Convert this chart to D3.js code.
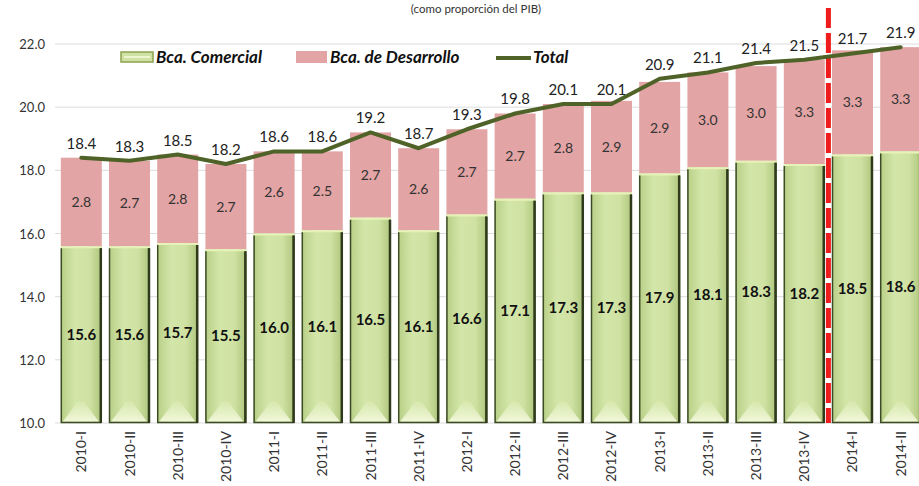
<!DOCTYPE html>
<html>
<head>
<meta charset="utf-8">
<script src="https://cdn.jsdelivr.net/npm/d3@7"></script>
<style>
  html, body { margin: 0; padding: 0; background: #fff; }
  svg { display: block; font-family: Lato, "Open Sans", sans-serif; }
</style>
</head>
<body>
<svg id="chart" width="919" height="486"></svg>
<script>
// trimestres
const periodos = ["2010-I", "2010-II", "2010-III", "2010-IV", "2011-I", "2011-II", "2011-III", "2011-IV",
  "2012-I", "2012-II", "2012-III", "2012-IV", "2013-I", "2013-II", "2013-III", "2013-IV", "2014-I", "2014-II"];
// banca comercial
const comercial = [15.6, 15.6, 15.7, 15.5, 16.0, 16.1, 16.5, 16.1, 16.6, 17.1, 17.3, 17.3, 17.9, 18.1, 18.3, 18.2, 18.5, 18.6];
// banca de desarrollo
const desarrollo = [2.8, 2.7, 2.8, 2.7, 2.6, 2.5, 2.7, 2.6, 2.7, 2.7, 2.8, 2.9, 2.9, 3.0, 3.0, 3.3, 3.3, 3.3];
// total (linea)
const total = [18.4, 18.3, 18.5, 18.2, 18.6, 18.6, 19.2, 18.7, 19.3, 19.8, 20.1, 20.1, 20.9, 21.1, 21.4, 21.5, 21.7, 21.9];
const yTicks = [10, 12, 14, 16, 18, 20, 22];
const corte = "2014-I"; // linea roja antes de este trimestre

const svg = d3.select("#chart");

const x = d3.scaleBand().domain(periodos).range([56, 926]).paddingInner(0.15).paddingOuter(0.1);
const y = d3.scaleLinear().domain([10, 22]).range([423, 44]);

// degradados
const defs = svg.append("defs");
const gVerde = defs.append("linearGradient").attr("id", "verde").attr("x1", 0).attr("x2", 1);
gVerde.append("stop").attr("offset", "0%").attr("stop-color", "#b7cf86");
gVerde.append("stop").attr("offset", "35%").attr("stop-color", "#d3e6a9");
gVerde.append("stop").attr("offset", "70%").attr("stop-color", "#cfe2a3");
gVerde.append("stop").attr("offset", "100%").attr("stop-color", "#aec57b");
const gBisel = defs.append("linearGradient").attr("id", "bisel").attr("x1", 0).attr("x2", 0).attr("y1", 0).attr("y2", 1);
gBisel.append("stop").attr("offset", "0%").attr("stop-color", "#eef6cf").attr("stop-opacity", 0.2);
gBisel.append("stop").attr("offset", "100%").attr("stop-color", "#f4f9de").attr("stop-opacity", 0.95);

// titulo (cortado arriba en el original)
svg.append("text")
  .attr("x", 476).attr("y", 13)
  .attr("text-anchor", "middle")
  .attr("font-size", 11.5).attr("fill", "#333")
  .text("(como proporción del PIB)");

// lineas de la grilla
svg.append("g").selectAll("line")
  .data(yTicks)
  .join("line")
  .attr("x1", 55).attr("x2", 919)
  .attr("y1", d => y(d)).attr("y2", d => y(d))
  .attr("stroke", "#dcdcdc").attr("stroke-width", 1);

// etiquetas eje y
svg.append("g").selectAll("text")
  .data(yTicks)
  .join("text")
  .attr("x", 45).attr("y", d => y(d) + 5)
  .attr("text-anchor", "end")
  .attr("font-size", 13).attr("fill", "#333")
  .text(d => d.toFixed(1));

// barras
const barras = svg.append("g").selectAll("g")
  .data(periodos)
  .join("g");

// banca de desarrollo (arriba)
barras.append("rect")
  .attr("x", d => x(d))
  .attr("y", (d, i) => y(comercial[i] + desarrollo[i]))
  .attr("width", x.bandwidth())
  .attr("height", (d, i) => y(comercial[i]) - y(comercial[i] + desarrollo[i]))
  .attr("fill", "#e2a4a4");

// banca comercial (abajo)
barras.append("rect")
  .attr("x", d => x(d))
  .attr("y", (d, i) => y(comercial[i]))
  .attr("width", x.bandwidth())
  .attr("height", (d, i) => y(10) - y(comercial[i]))
  .attr("fill", "url(#verde)");

// bisel inferior
barras.append("path")
  .attr("d", d => {
    const x0 = x(d) + 2, x1 = x(d) + x.bandwidth() - 3, b = y(10) - 1.5, m = (x0 + x1) / 2;
    return `M${x0},${b} L${m - 3},${b - 20} L${m + 3},${b - 20} L${x1},${b} Z`;
  })
  .attr("fill", "url(#bisel)");

// borde claro arriba del verde
barras.append("line")
  .attr("x1", d => x(d)).attr("x2", d => x(d) + x.bandwidth())
  .attr("y1", (d, i) => y(comercial[i]) + 1).attr("y2", (d, i) => y(comercial[i]) + 1)
  .attr("stroke", "#e8f2b8").attr("stroke-width", 2);

// sombra oscura izquierda y abajo
barras.append("path")
  .attr("d", (d, i) => {
    const l = x(d), r = x(d) + x.bandwidth(), t = y(comercial[i]) + 2, b = y(10);
    return `M${l + 0.5},${t} L${l + 0.5},${b - 0.5} L${r - 1},${b - 0.5} L${r - 1},${t}`;
  })
  .attr("fill", "none")
  .attr("stroke", "#3d4a26")
  .attr("stroke-width", 1.5);

// sombra derecha
barras.append("line")
  .attr("x1", d => x(d) + x.bandwidth() - 1).attr("x2", d => x(d) + x.bandwidth() - 1)
  .attr("y1", (d, i) => y(comercial[i]) + 2).attr("y2", y(10))
  .attr("stroke", "#2f3a1d").attr("stroke-width", 2.5);

// etiquetas banca comercial
barras.append("text")
  .attr("x", d => x(d) + x.bandwidth() / 2)
  .attr("y", (d, i) => y((10 + comercial[i]) / 2) + 5)
  .attr("text-anchor", "middle")
  .attr("font-size", 15).attr("font-weight", "bold").attr("fill", "#111")
  .text((d, i) => comercial[i].toFixed(1));

// etiquetas banca de desarrollo
barras.append("text")
  .attr("x", d => x(d) + x.bandwidth() / 2)
  .attr("y", (d, i) => y(comercial[i] + desarrollo[i] / 2) + 5)
  .attr("text-anchor", "middle")
  .attr("font-size", 14).attr("fill", "#333")
  .text((d, i) => desarrollo[i].toFixed(1));

// linea roja punteada
const xc = x(corte) - x.step() * x.paddingInner() / 2;
svg.append("line")
  .attr("x1", xc).attr("x2", xc).attr("y1", 8).attr("y2", y(10))
  .attr("stroke", "#fff").attr("stroke-width", 5);
svg.append("line")
  .attr("x1", xc).attr("x2", xc).attr("y1", 8).attr("y2", y(10))
  .attr("stroke", "#ee1c1c").attr("stroke-width", 5)
  .attr("stroke-dasharray", "20,5");

// linea total
const linea = d3.line()
  .x((d, i) => x(periodos[i]) + x.bandwidth() / 2)
  .y(d => y(d));
svg.append("path")
  .attr("d", linea(total))
  .attr("fill", "none")
  .attr("stroke", "#4f6228")
  .attr("stroke-width", 4)
  .attr("stroke-linejoin", "round")
  .attr("stroke-linecap", "round");

// etiquetas total
svg.append("g").selectAll("text")
  .data(total)
  .join("text")
  .attr("x", (d, i) => x(periodos[i]) + x.bandwidth() / 2)
  .attr("y", d => y(d) - 9)
  .attr("text-anchor", "middle")
  .attr("font-size", 15).attr("fill", "#222")
  .text(d => d.toFixed(1));

// etiquetas eje x
svg.append("g").selectAll("text")
  .data(periodos)
  .join("text")
  .attr("transform", d => `translate(${x(d) + x.bandwidth() / 2 + 5},431) rotate(-90)`)
  .attr("text-anchor", "end")
  .attr("font-size", 14).attr("fill", "#333")
  .text(d => d);

// leyenda
const ley = svg.append("g").attr("font-size", 17).attr("font-weight", "bold").attr("font-style", "italic").attr("fill", "#111");
ley.append("rect").attr("x", 121).attr("y", 52).attr("width", 32).attr("height", 10)
  .attr("fill", "#cfe2a3").attr("stroke", "#8da34f").attr("stroke-width", 1.5);
ley.append("line").attr("x1", 124).attr("x2", 150).attr("y1", 57).attr("y2", 57)
  .attr("stroke", "#eef6cf").attr("stroke-width", 2);
ley.append("text").attr("x", 156).attr("y", 63).text("Bca. Comercial");
ley.append("rect").attr("x", 296).attr("y", 51).attr("width", 31).attr("height", 12).attr("fill", "#e2a4a4");
ley.append("text").attr("x", 330).attr("y", 63).text("Bca. de Desarrollo");
ley.append("line").attr("x1", 496).attr("x2", 531).attr("y1", 58).attr("y2", 58)
  .attr("stroke", "#4f6228").attr("stroke-width", 4);
ley.append("text").attr("x", 533).attr("y", 63).text("Total");
</script>
</body>
</html>
